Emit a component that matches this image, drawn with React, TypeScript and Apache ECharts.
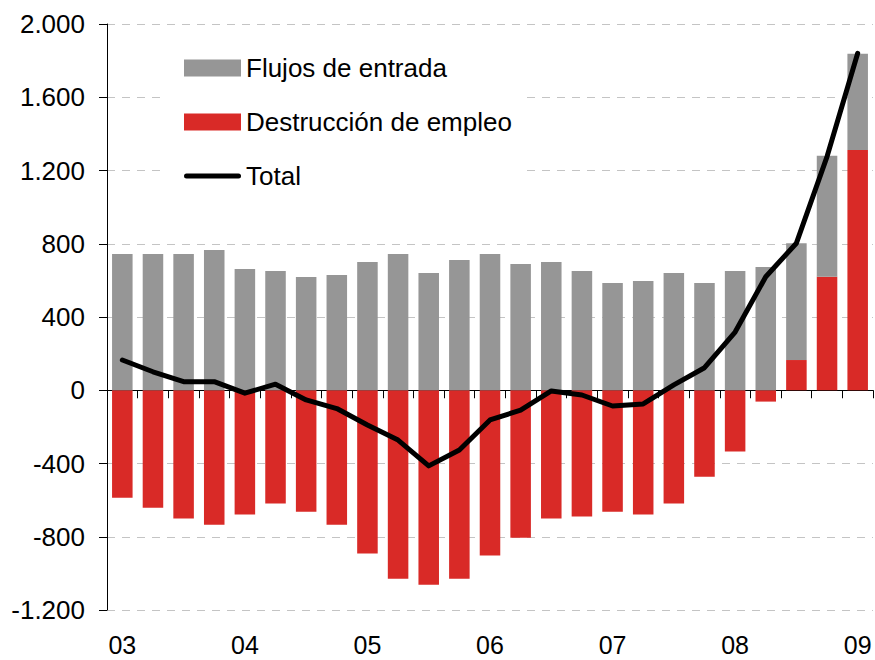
import React, { useEffect, useRef } from "react";
import * as echarts from "echarts";

const quarters = [
  "03-T1", "03-T2", "03-T3", "03-T4",
  "04-T1", "04-T2", "04-T3", "04-T4",
  "05-T1", "05-T2", "05-T3", "05-T4",
  "06-T1", "06-T2", "06-T3", "06-T4",
  "07-T1", "07-T2", "07-T3", "07-T4",
  "08-T1", "08-T2", "08-T3", "08-T4",
  "09-T1",
];

const flujosEntrada = [744, 744, 744, 766, 662, 651, 618, 629, 700, 744, 640, 711, 744, 690, 700, 651, 586, 597, 640, 586, 651, 673, 638, 661, 525];
const destruccionEmpleo = [-587, -641, -701, -734, -679, -619, -663, -734, -892, -1029, -1062, -1029, -903, -805, -701, -690, -663, -679, -619, -472, -335, -62, 165, 620, 1312];
const total = [165, 101, 47, 47, -16, 33, -53, -100, -190, -272, -413, -326, -162, -109, -4, -26, -86, -75, 29, 123, 318, 620, 803, 1276, 1840];

const yTicks = { min: -1200, max: 2000, interval: 400 };

const FONT = "'Liberation Sans', Arial, sans-serif";
const GRAY = "#969696";
const RED = "#d92a27";
const LINE_ICON = "path://M2.5,0 L54.5,0 A2.5,2.5 0 0 1 54.5,5 L2.5,5 A2.5,2.5 0 0 1 2.5,0 Z";

function fmt(v: number): string {
  const s = Math.abs(v).toString();
  const withSep = s.replace(/\B(?=(\d{3})+(?!\d))/g, ".");
  return (v < 0 ? "-" : "") + withSep;
}

export default function App() {
  const ref = useRef<HTMLDivElement>(null);
  useEffect(() => {
    if (!ref.current) return;
    const chart = echarts.init(ref.current, null, { renderer: "svg" });
    chart.setOption({
      animation: false,
      backgroundColor: "#ffffff",
      textStyle: { fontFamily: FONT },
      grid: { left: 107, right: 2, top: 24, bottom: 50, containLabel: false },
      legend: {
        orient: "vertical",
        left: 160,
        top: 40,
        padding: [15, 12, 15, 24],
        backgroundColor: "#ffffff",
        itemWidth: 57,
        itemHeight: 17,
        itemGap: 28,
        symbolKeepAspect: true,
        textStyle: { fontSize: 26, color: "#000", fontFamily: FONT },
        data: [
          { name: "Flujos de entrada", icon: "rect" },
          { name: "Destrucción de empleo", icon: "rect" },
          { name: "Total", icon: LINE_ICON, itemStyle: { color: "#000" } },
        ],
      },
      xAxis: [
        {
          type: "category",
          data: quarters,
          boundaryGap: true,
          axisLine: { onZero: true, lineStyle: { color: "#000", width: 1 } },
          axisTick: { show: true, interval: 0, length: 8, lineStyle: { color: "#000" } },
          axisLabel: { show: false },
          splitLine: { show: false },
        },
        {
          type: "category",
          data: quarters,
          position: "bottom",
          boundaryGap: true,
          axisLine: { show: false, onZero: false },
          axisTick: { show: false },
          axisLabel: {
            show: true,
            interval: 3,
            margin: 25,
            fontSize: 25,
            lineHeight: 20,
            color: "#000",
            fontFamily: FONT,
            formatter: (v: string) => v.slice(0, 2),
          },
          splitLine: { show: false },
        },
      ],
      yAxis: {
        type: "value",
        min: yTicks.min,
        max: yTicks.max,
        interval: yTicks.interval,
        axisLine: { show: true, lineStyle: { color: "#000", width: 1 } },
        axisTick: { show: true, length: 8, lineStyle: { color: "#000" } },
        axisLabel: {
          margin: 22,
          fontSize: 26,
          color: "#000",
          fontFamily: FONT,
          formatter: (v: number) => fmt(v),
        },
        splitLine: {
          show: true,
          lineStyle: { color: "#c4c4c4", type: [8, 7], width: 1 },
        },
      },
      series: [
        {
          name: "Destrucción de empleo",
          type: "bar",
          stack: "s",
          data: destruccionEmpleo,
          barWidth: "67%",
          itemStyle: { color: RED },
          xAxisIndex: 0,
        },
        {
          name: "Flujos de entrada",
          type: "bar",
          stack: "s",
          data: flujosEntrada,
          barWidth: "67%",
          itemStyle: { color: GRAY },
          xAxisIndex: 0,
        },
        {
          name: "Total",
          type: "line",
          data: total,
          symbol: "none",
          showSymbol: false,
          z: 5,
          lineStyle: { color: "#000", width: 5, cap: "round", join: "round" },
          itemStyle: { color: "#000" },
          xAxisIndex: 0,
        },
      ],
    });
    return () => chart.dispose();
  }, []);
  return (
    <div
      ref={ref}
      style={{ position: "absolute", left: 0, top: 0, width: 875, height: 660 }}
    />
  );
}
